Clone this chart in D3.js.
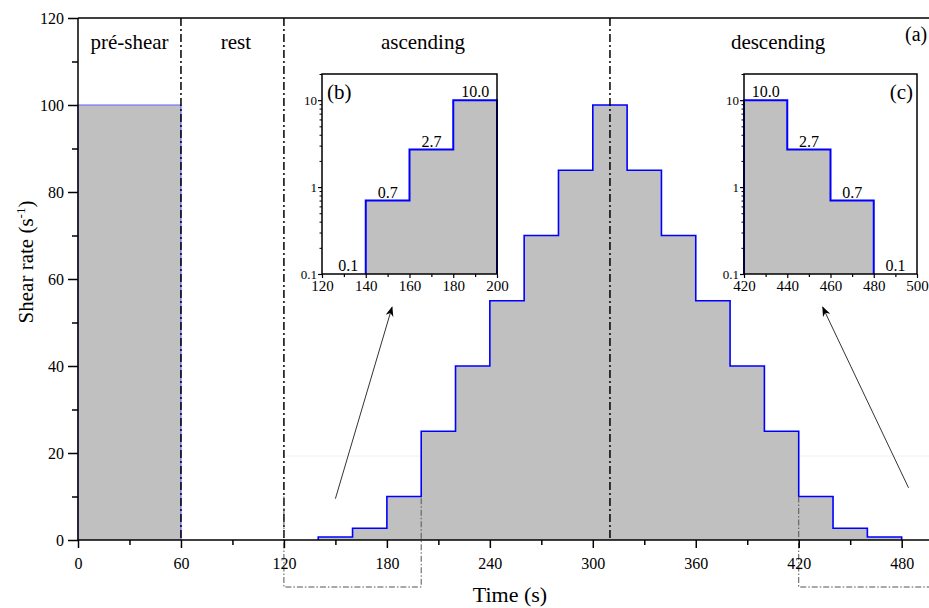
<!DOCTYPE html>
<html><head><meta charset="utf-8">
<script src="https://cdn.jsdelivr.net/npm/d3@7"></script>
<style>body{margin:0;background:#fff}svg{display:block;font-family:"Liberation Serif","Times New Roman",serif}</style>
</head><body><svg id="c" width="929" height="608"></svg>
<script>
// ---- data ----
const segStart = [0, 140, 160, 180, 200, 220, 240, 260, 280, 300, 320, 340, 360, 380, 400, 420, 440, 460];
const segEnd   = [60, 160, 180, 200, 220, 240, 260, 280, 300, 320, 340, 360, 380, 400, 420, 440, 460, 480];
const segRate  = [100, 0.7, 2.7, 10, 25, 40, 55, 70, 85, 100, 85, 70, 55, 40, 25, 10, 2.7, 0.7];
const xTicks = [0, 60, 120, 180, 240, 300, 360, 420, 480];
const yTicks = [0, 20, 40, 60, 80, 100, 120];
const phaseLines = [60, 120, 310];
const phaseNames = ["pré-shear", "rest", "ascending", "descending"];
const phaseCenters = [30, 92, 201, 408];
// inset (b)
const bStart = [140, 160, 180], bEnd = [160, 180, 200], bRate = [0.7, 2.7, 10];
const bLabels = ["0.1", "0.7", "2.7", "10.0"], bLabelX = [132, 150, 170, 190], bLabelY = [0.1, 0.7, 2.7, 10];
const bTicks = [120, 140, 160, 180, 200];
// inset (c)
const cStart = [420, 440, 460], cEnd = [440, 460, 480], cRate = [10, 2.7, 0.7];
const cLabels = ["10.0", "2.7", "0.7", "0.1"], cLabelX = [430, 450, 470, 490], cLabelY = [10, 2.7, 0.7, 0.1];
const cTicks = [420, 440, 460, 480, 500];
const logTicks = [0.1, 1, 10];
const logLabels = ["0.1", "1", "10"];

const SERIF = "Liberation Serif";
const svg = d3.select("#c");
const x = d3.scaleLinear().domain([0, 500]).range([78, 936]);
const y = d3.scaleLinear().domain([0, 120]).range([540, 18]);
const FILL = "#c0c0c0", BLUE = "#0000ff";

function outline(starts, ends, vals, xs, ys, base) {
  const pts = [[xs(starts[0]), ys(base)]];
  vals.forEach((v, i) => { pts.push([xs(starts[i]), ys(v)]); pts.push([xs(ends[i]), ys(v)]); });
  pts.push([xs(ends[ends.length - 1]), ys(base)]);
  return d3.line()(pts);
}

// faint line (behind)
svg.append("line").attr("x1", x(120)).attr("x2", 929).attr("y1", y(19.3)).attr("y2", y(19.3))
  .attr("stroke", "#f0f0f0").attr("stroke-width", 1);

// fills
const pre = outline([segStart[0]], [segEnd[0]], [segRate[0]], x, y, 0);
const steps = outline(segStart.slice(1), segEnd.slice(1), segRate.slice(1), x, y, 0);
svg.append("path").attr("d", pre + "Z").attr("fill", FILL);
svg.append("path").attr("d", steps + "Z").attr("fill", FILL);
svg.append("path").attr("d", pre).attr("fill", "none").attr("stroke", "#6060ff").attr("stroke-width", 1.2);
svg.append("path").attr("d", steps).attr("fill", "none").attr("stroke", BLUE).attr("stroke-width", 1.6);

// phase lines
svg.append("g").selectAll("line").data(phaseLines).join("line")
  .attr("x1", d => x(d)).attr("x2", d => x(d)).attr("y1", y(120)).attr("y2", y(0))
  .attr("stroke", "#000").attr("stroke-width", 1.5).attr("stroke-dasharray", "8,3,2,3");

// zoom boxes
[[120, 200], [420, 520]].forEach(([a, b]) => {
  svg.append("path").attr("d", d3.line()([[x(a), y(10)], [x(a), 587], [x(b), 587], [x(b), y(10)]]))
    .attr("fill", "none").attr("stroke", "#555").attr("stroke-width", 1).attr("stroke-dasharray", "6,2,1.5,2");
});

// axes frame
svg.append("line").attr("x1", x(0)).attr("x2", 936).attr("y1", y(120)).attr("y2", y(120)).attr("stroke", "#000").attr("stroke-width", 1.5);
svg.append("line").attr("x1", x(0)).attr("x2", 936).attr("y1", y(0)).attr("y2", y(0)).attr("stroke", "#000").attr("stroke-width", 1.5);
svg.append("line").attr("x1", x(0)).attr("x2", x(0)).attr("y1", y(0)).attr("y2", y(120)).attr("stroke", "#000").attr("stroke-width", 1.5);

// x axis
const xa = svg.append("g").attr("transform", `translate(0,${y(0)})`)
  .call(d3.axisBottom(x).tickValues(xTicks).tickSize(8).tickPadding(10).tickFormat(d3.format("d")));
xa.attr("font-family", SERIF);
xa.select(".domain").remove();
xa.selectAll("line").attr("stroke-width", 1.5);
xa.selectAll("text").attr("font-size", 16);
const xm = svg.append("g").attr("transform", `translate(0,${y(0)})`)
  .call(d3.axisBottom(x).tickValues(d3.range(30, 500, 60)).tickSize(5).tickFormat(""));
xm.select(".domain").remove(); xm.selectAll("line").attr("stroke-width", 1.5);

// y axis
const ya = svg.append("g").attr("transform", `translate(${x(0)},0)`)
  .call(d3.axisLeft(y).tickValues(yTicks).tickSize(10).tickPadding(4));
ya.attr("font-family", SERIF);
ya.select(".domain").remove();
ya.selectAll("line").attr("stroke-width", 1.5);
ya.selectAll("text").attr("font-size", 16);
const ym = svg.append("g").attr("transform", `translate(${x(0)},0)`)
  .call(d3.axisLeft(y).tickValues(d3.range(10, 120, 20)).tickSize(6).tickFormat(""));
ym.select(".domain").remove(); ym.selectAll("line").attr("stroke-width", 1.5);

// phase labels
svg.append("g").selectAll("text").data(phaseNames).join("text")
  .attr("x", (d, i) => x(phaseCenters[i])).attr("y", 49).attr("text-anchor", "middle")
  .attr("font-size", 21).text(d => d);
svg.append("text").attr("x", 905).attr("y", 41).attr("font-size", 20).text("(a)");

// axis titles
svg.append("text").attr("x", 510).attr("y", 602).attr("text-anchor", "middle").attr("font-size", 22).text("Time (s)");
const yt = svg.append("text").attr("transform", "translate(33,262) rotate(-90)").attr("text-anchor", "middle").attr("font-size", 21);
yt.append("tspan").text("Shear rate (s");
yt.append("tspan").attr("font-size", 13).attr("dy", -8).text("-1");
yt.append("tspan").attr("dy", 8).text(")");

// arrows
const defs = svg.append("defs");
defs.append("marker").attr("id", "ah").attr("viewBox", "0 0 10 10").attr("refX", 9).attr("refY", 5)
  .attr("markerWidth", 10).attr("markerHeight", 10).attr("markerUnits", "userSpaceOnUse").attr("orient", "auto")
  .append("path").attr("d", "M0,1 L10,5 L0,9 L3,5 Z").attr("fill", "#000");
const arrowData = [[[150, 9.5], [183, 53.5]], [[484, 12], [434, 53.5]]];
svg.append("g").selectAll("line").data(arrowData).join("line")
  .attr("x1", d => x(d[0][0])).attr("y1", d => y(d[0][1])).attr("x2", d => x(d[1][0])).attr("y2", d => y(d[1][1]))
  .attr("stroke", "#333").attr("stroke-width", 1).attr("marker-end", "url(#ah)");

// insets
function inset(left, right, dom, starts, ends, rates, labels, labX, labY, ticks, tag, tagX, tagAnchor) {
  const ix = d3.scaleLinear().domain(dom).range([left, right]);
  const iy = d3.scaleLog().domain([0.1, 20]).range([274, 74]);
  const g = svg.append("g");
  g.append("rect").attr("x", left).attr("y", 74).attr("width", right - left).attr("height", 200).attr("fill", "#fff");
  const p = outline(starts, ends, rates, ix, iy, 0.1);
  g.append("path").attr("d", p + "Z").attr("fill", FILL);
  g.append("path").attr("d", p).attr("fill", "none").attr("stroke", BLUE).attr("stroke-width", 2);
  g.append("rect").attr("x", left).attr("y", 74).attr("width", right - left).attr("height", 200)
    .attr("fill", "none").attr("stroke", "#000").attr("stroke-width", 1.5);
  const ax = g.append("g").attr("transform", "translate(0,274)")
    .call(d3.axisBottom(ix).tickValues(ticks).tickSize(4).tickPadding(2).tickFormat(d3.format("d")));
  ax.attr("font-family", SERIF);
  ax.select(".domain").remove();
  ax.selectAll("line").attr("stroke-width", 1.2);
  ax.selectAll("text").attr("font-size", 15);
  const axm = g.append("g").attr("transform", "translate(0,274)")
    .call(d3.axisBottom(ix).tickValues(d3.range(dom[0] + 10, dom[1], 20)).tickSize(3).tickFormat(""));
  axm.select(".domain").remove(); axm.selectAll("line").attr("stroke-width", 1.2);
  const ay = g.append("g").attr("transform", `translate(${left},0)`)
    .call(d3.axisLeft(iy).tickValues(logTicks).tickSize(4).tickPadding(1).tickFormat((d, i) => logLabels[i]));
  ay.attr("font-family", SERIF);
  ay.select(".domain").remove();
  ay.selectAll("line").attr("stroke-width", 1.2);
  ay.selectAll("text").attr("font-size", 13);
  const minor = [];
  [0.1, 1, 10].forEach(b => { for (let k = 2; k <= 9; k++) if (b * k <= 20) minor.push(b * k); });
  const aym = g.append("g").attr("transform", `translate(${left},0)`)
    .call(d3.axisLeft(iy).tickValues(minor).tickSize(2.5).tickFormat(""));
  aym.select(".domain").remove(); aym.selectAll("line").attr("stroke-width", 1);
  g.selectAll("text.l").data(labels).join("text").attr("class", "l")
    .attr("x", (d, i) => ix(labX[i])).attr("y", (d, i) => iy(labY[i]) - 3)
    .attr("text-anchor", "middle").attr("font-size", 16).text(d => d);
  g.append("text").attr("x", tagX).attr("y", 99).attr("text-anchor", tagAnchor).attr("font-size", 21).text(tag);
}
inset(322, 497, [120, 200], bStart, bEnd, bRate, bLabels, bLabelX, bLabelY, bTicks, "(b)", 327, "start");
inset(744, 917, [420, 500], cStart, cEnd, cRate, cLabels, cLabelX, cLabelY, cTicks, "(c)", 913, "end");
</script></body></html>
